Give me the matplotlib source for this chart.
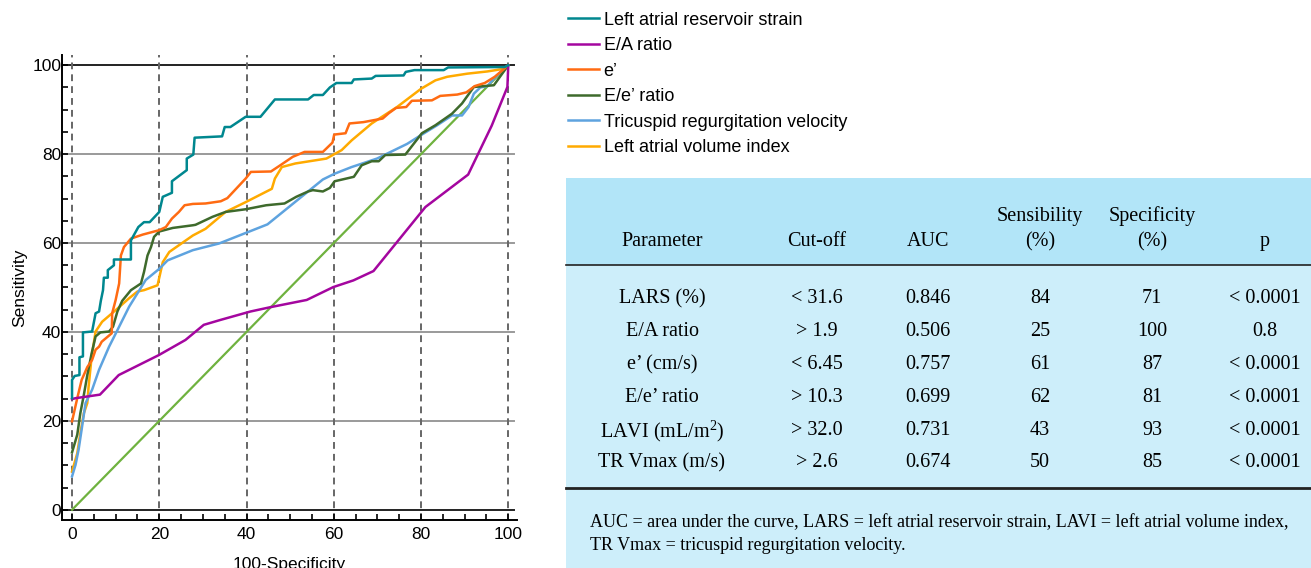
import matplotlib
matplotlib.use("Agg")
import matplotlib.pyplot as plt
from matplotlib.lines import Line2D
from matplotlib.patches import Rectangle

plt.rcParams['font.family'] = ['Liberation Sans', 'DejaVu Sans']

# ROC curves (100-specificity, sensitivity)
lars_x = [0, 0, 0.6, 1.7, 1.7, 2.5, 2.5, 4.6, 5.4, 6.2, 6.6, 7.1, 7.3, 8.2, 8.2, 9.6, 9.6, 13.5,
          13.5, 15.2, 16.5, 17.8, 20.0, 20.8, 22.9, 22.9, 26.3, 26.3, 27.8, 28.1, 34.4, 35.0, 36.3,
          39.8, 43.2, 46.5, 54.1, 55.4, 57.5, 59.1, 60.6, 64.1, 64.6, 68.7, 69.6, 76.0, 76.5,
          78.5, 85.2, 86.2, 99.2, 100]
lars_y = [25.1, 29.2, 30.1, 30.3, 34.3, 34.5, 39.9, 40.1, 44.2, 44.6, 47.0, 49.4, 52.2, 52.2,
          53.9, 55.0, 56.3, 56.3, 60.6, 63.6, 64.7, 64.7, 67.0, 70.4, 71.3, 73.9, 76.4, 79.0,
          79.9, 83.7, 84.0, 86.1, 86.1, 88.4, 88.4, 92.3, 92.3, 93.3, 93.3, 95.0, 96.0, 96.0,
          96.8, 97.0, 97.6, 97.7, 98.5, 98.9, 98.9, 99.5, 99.6, 100]

ea_x = [0, 0.8, 6.4, 10.7, 19.9, 26.0, 30.2, 34.0, 40.9, 45.6, 53.8, 59.9, 64.5, 69.1, 81.0,
        90.8, 96.2, 99.8, 100]
ea_y = [24.9, 25.1, 25.9, 30.3, 34.8, 38.2, 41.6, 42.7, 44.6, 45.6, 47.2, 50.1, 51.6, 53.7,
        68.1, 75.4, 86.4, 95.1, 100]

e_x = [0, 1.2, 2.2, 3.5, 4.6, 5.4, 6.2, 6.8, 9.1, 9.2, 10.0, 10.8, 11.2, 11.9, 13.5, 16.2,
       20.0, 21.5, 22.9, 24.5, 25.8, 27.7, 30.6, 34.1, 35.6, 39.8, 41.0, 45.6, 47.9, 50.6,
       53.3, 57.5, 59.7, 60.1, 62.7, 63.6, 66.8, 69.5, 71.2, 72.6, 74.3, 76.6, 77.9, 82.5,
       84.4, 88.3, 90.4, 92.3, 94.6, 96.9, 100]
e_y = [19.9, 25.1, 29.2, 32.1, 33.7, 36.0, 36.7, 37.8, 39.7, 44.2, 47.2, 50.9, 57.2, 59.1,
       61.0, 61.9, 62.9, 63.6, 65.5, 67.0, 68.5, 68.8, 68.9, 69.4, 70.1, 74.5, 76.0, 76.1,
       77.6, 79.4, 80.5, 80.5, 82.6, 84.4, 84.7, 86.9, 87.2, 87.7, 88.0, 89.2, 90.4, 90.6,
       92.0, 92.1, 93.1, 93.4, 93.9, 95.3, 96.0, 97.4, 100]

ee_x = [0, 1.2, 1.9, 2.7, 3.5, 4.5, 5.4, 6.5, 8.5, 9.4, 10.4, 11.5, 13.5, 15.8, 16.5, 17.3,
        18.1, 18.8, 20.0, 23.1, 27.7, 28.3, 32.2, 35.2, 39.8, 44.5, 48.7, 51.4, 54.1, 55.2,
        57.5, 59.1, 60.2, 64.6, 66.4, 68.7, 70.3, 71.8, 76.4, 80.2, 83.3, 87.1, 89.4, 92.1,
        96.7, 100]
ee_y = [12.9, 16.9, 21.7, 25.8, 30.3, 35.2, 39.0, 39.9, 40.1, 41.2, 44.6, 47.0, 49.4, 50.9,
        53.5, 57.2, 59.1, 61.4, 62.6, 63.4, 64.0, 64.1, 65.9, 67.0, 67.6, 68.5, 68.9, 70.4,
        71.6, 71.9, 71.6, 72.4, 73.9, 74.9, 77.5, 78.4, 78.4, 79.8, 79.9, 84.7, 86.5, 89.1,
        91.4, 95.1, 95.5, 100]

tr_x = [0, 0.8, 1.5, 2.3, 3.1, 4.6, 6.2, 8.5, 10.4, 13.1, 16.9, 20.0, 21.9, 27.7, 33.7,
        44.8, 57.5, 60.2, 64.1, 69.9, 76.8, 80.2, 83.7, 87.1, 89.4, 90.9, 92.1, 93.6, 95.2,
        96.7, 100]
tr_y = [7.5, 10.1, 13.5, 18.7, 24.0, 27.0, 31.5, 36.7, 40.4, 45.7, 51.7, 54.2, 56.1, 58.4,
        59.9, 64.2, 74.3, 75.6, 77.1, 79.0, 82.3, 84.4, 86.5, 88.7, 88.7, 90.6, 93.6, 95.0,
        95.3, 97.0, 100]

lavi_x = [0, 1.2, 1.9, 2.7, 3.5, 3.8, 4.5, 5.4, 6.9, 10.0, 13.1, 15.0, 16.5, 19.6, 20.8,
          22.3, 27.7, 30.6, 35.2, 39.8, 45.8, 46.5, 48.1, 51.2, 58.3, 61.8, 64.1, 68.7,
          74.5, 80.0, 83.3, 86.0, 90.6, 95.2, 99.0, 100]
lavi_y = [8.6, 12.7, 17.2, 21.7, 24.0, 27.7, 34.5, 40.1, 42.3, 44.9, 47.6, 49.1, 49.4, 50.5,
          55.7, 58.0, 61.7, 63.2, 67.0, 69.2, 72.2, 74.5, 77.1, 77.9, 79.0, 80.9, 83.1, 86.9,
          90.6, 94.7, 96.6, 97.4, 98.1, 98.6, 99.2, 100]

curve_names = ['Left atrial reservoir strain', 'E/A ratio', 'e\u2019', 'E/e\u2019 ratio',
               'Tricuspid regurgitation velocity', 'Left atrial volume index']
curve_colors = ['#00878f', '#a4069f', '#ff6b12', '#3e6a2c', '#5ea3df', '#ffaa00']
curves = [(lars_x, lars_y), (ea_x, ea_y), (e_x, e_y), (ee_x, ee_y), (tr_x, tr_y), (lavi_x, lavi_y)]

# table
col_heads = ['Parameter', 'Cut-off', 'AUC', 'Sensibility\n(%)', 'Specificity\n(%)', 'p']
params = ['LARS (%)', 'E/A ratio', 'e\u2019 (cm/s)', 'E/e\u2019 ratio', 'LAVI (mL/m$^2$)', 'TR Vmax (m/s)']
cutoffs = ['< 31.6', '> 1.9', '< 6.45', '> 10.3', '> 32.0', '> 2.6']
aucs = ['0.846', '0.506', '0.757', '0.699', '0.731', '0.674']
sens = ['84', '25', '61', '62', '43', '50']
spec = ['71', '100', '87', '81', '93', '85']
pvals = ['< 0.0001', '0.8', '< 0.0001', '< 0.0001', '< 0.0001', '< 0.0001']
footnote = ('AUC = area under the curve, LARS = left atrial reservoir strain, '
            'LAVI = left atrial volume index,\nTR Vmax = tricuspid regurgitation velocity.')

plt.rcParams['mathtext.fontset'] = 'custom'
plt.rcParams['mathtext.rm'] = 'Liberation Serif'

W, H = 1311, 568
fig = plt.figure(figsize=(W / 100, H / 100), dpi=100)

ax = fig.add_axes([62 / W, 1 - 520 / H, 455 / W, 465 / H])
ax.set_xlim(-2.3, 102)
ax.set_ylim(-2.3, 102.3)

for v in [20, 40, 60, 80]:
    ax.plot([-2.3, 101.2], [v, v], color='#9a9a9a', lw=1.4, zorder=1)
for v in [0, 100]:
    ax.plot([-2.3, 101.2], [v, v], color='#222222', lw=1.4, zorder=1)
for v in range(0, 101, 20):
    ax.axvline(v, color='#666666', lw=1.4, ls=(0, (3.5, 2.6)), zorder=1)

ax.plot([0, 100], [0, 100], color='#6fb23f', lw=1.6, zorder=2)
for (cx, cy), c in zip(curves[::-1], curve_colors[::-1]):
    ax.plot(cx, cy, color=c, lw=1.8, zorder=3)

for s in ['top', 'right']:
    ax.spines[s].set_visible(False)
for s in ['left', 'bottom']:
    ax.spines[s].set_linewidth(1.4)
ax.set_xticks(range(0, 101, 20))
ax.set_yticks(range(0, 101, 20))
ax.set_xticks(range(0, 101, 5), minor=True)
ax.set_yticks(range(0, 101, 5), minor=True)
ax.tick_params(which='both', direction='in', length=4.5, width=1.2, labelsize=12.5)
ax.tick_params(axis='y', pad=0.5)
ax.tick_params(axis='x', pad=5)
ax.set_xlabel('100-Specificity', fontsize=12.5, labelpad=11)
ax.set_ylabel('Sensitivity', fontsize=12.5, labelpad=4)

handles = [Line2D([], [], color=c, lw=1.8) for c in curve_colors]
fig.legend(handles, curve_names, loc='upper left', bbox_to_anchor=(555 / W, 1 + 1 / H),
           frameon=False, fontsize=13, handlelength=1.75, handletextpad=0.25,
           labelspacing=0.47, borderpad=0.2)

# table background
fig.patches.append(Rectangle((566 / W, 0), 1 - 566 / W, 1 - 178 / H, transform=fig.transFigure,
                             facecolor='#cdeefa', edgecolor='none', zorder=0))
fig.patches.append(Rectangle((566 / W, 1 - 265 / H), 1 - 566 / W, 87 / H, transform=fig.transFigure,
                             facecolor='#b2e5f8', edgecolor='none', zorder=0))
fig.add_artist(Line2D([566 / W, 1], [1 - 265 / H] * 2, color='#222222', lw=1.2))
fig.add_artist(Line2D([566 / W, 1], [1 - 488 / H] * 2, color='#222222', lw=2.0))

serif = ['Liberation Serif', 'DejaVu Serif']
col_x = [662, 817, 928, 1040, 1152, 1265]
for cx, head in zip(col_x, col_heads):
    fig.text(cx / W, 1 - 251 / H, head, ha='center', va='bottom', fontsize=14.5,
             family=serif, linespacing=1.4)
row_y = [296, 329, 362, 395, 428, 460]
for i, ry in enumerate(row_y):
    vals = [params[i], cutoffs[i], aucs[i], sens[i], spec[i], pvals[i]]
    for cx, val in zip(col_x, vals):
        fig.text(cx / W, 1 - ry / H, val, ha='center', va='center_baseline', fontsize=14.5,
                 family=serif)
fig.text(590 / W, 1 - 534 / H, footnote, ha='left', va='center', fontsize=13,
         family=serif, linespacing=1.4)

fig.savefig('out.png', dpi=100)
